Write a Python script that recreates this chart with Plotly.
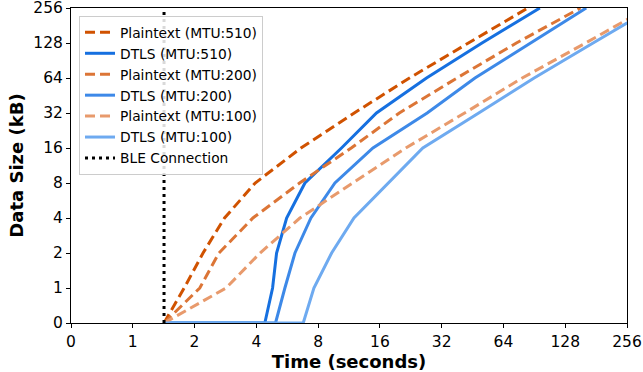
import numpy as np
import plotly.graph_objects as go

# ---------------- data ----------------
tick_values = [0, 1, 2, 4, 8, 16, 32, 64, 128, 256]
tick_labels = ["0", "1", "2", "4", "8", "16", "32", "64", "128", "256"]

plain_sizes = [0, 1, 2, 4, 8, 16, 32, 64, 128, 256]          # kB
dtls_sizes = [0, 0, 1, 2, 4, 8, 16, 32, 64, 128, 256]        # kB

plain510_time = [1.42, 1.78, 2.2, 2.8, 3.95, 6.6, 12.0, 22.3, 43.2, 84.2]
dtls510_time = [1.42, 4.40, 4.80, 5.02, 5.62, 6.90, 10.4, 15.4, 27.0, 50.3, 96.3]
plain200_time = [1.42, 2.12, 2.63, 3.85, 6.5, 11.6, 19.9, 38.0, 74.0, 152.0]
dtls200_time = [1.42, 4.96, 5.51, 6.17, 7.38, 9.66, 14.8, 27.2, 46.5, 86.4, 162.0]
plain100_time = [1.42, 2.85, 4.17, 6.52, 11.8, 21.4, 41.4, 79.0, 161.0, 322.0]
dtls100_time = [1.42, 6.77, 7.63, 9.31, 11.96, 17.5, 25.9, 48.5, 90.3, 175.0, 340.0]

ble_time = 1.42
ble_sizes = [0, 256]


# symmetric log (base 2, linear below 1) scale, as in the reference
def sym2(v):
    v = np.asarray(v, dtype=float)
    return np.where(v <= 1, v, 1 + np.log2(np.maximum(v, 1)))


series = [
    ("Plaintext (MTU:510)", plain510_time, plain_sizes, "#d05200", "10px,5px"),
    ("DTLS (MTU:510)", dtls510_time, dtls_sizes, "#1670e0", "solid"),
    ("Plaintext (MTU:200)", plain200_time, plain_sizes, "#dc7536", "10px,5px"),
    ("DTLS (MTU:200)", dtls200_time, dtls_sizes, "#3d89e8", "solid"),
    ("Plaintext (MTU:100)", plain100_time, plain_sizes, "#e89a6c", "10px,5px"),
    ("DTLS (MTU:100)", dtls100_time, dtls_sizes, "#6eaaf0", "solid"),
]

fig = go.Figure()
for name, t, s, color, dash in series:
    fig.add_trace(go.Scatter(
        x=sym2(t), y=sym2(s), mode="lines", name=name,
        line=dict(color=color, width=3, dash=dash),
    ))

fig.add_trace(go.Scatter(
    x=sym2([ble_time, ble_time]), y=sym2(ble_sizes), mode="lines",
    name="BLE Connection",
    line=dict(color="black", width=3, dash="3px,4px"),
))

font_family = "DejaVu Sans"
axis_common = dict(
    showgrid=False, zeroline=False,
    showline=True, linecolor="black", linewidth=1, mirror=True,
    ticks="outside", ticklen=4, tickcolor="black", tickwidth=1,
    tickfont=dict(family=font_family, size=15.5, color="black"),
    layer="below traces", automargin=False, ticklabeloverflow="allow",
)

fig.update_layout(
    width=643, height=372,
    margin=dict(l=71, r=16, t=8, b=49),
    paper_bgcolor="white", plot_bgcolor="white",
    font=dict(family=font_family, color="black"),
    xaxis=dict(
        range=[0, 9], tickvals=sym2(tick_values).tolist(), ticktext=tick_labels,
        title=dict(text="<b>Time (seconds)</b>", font=dict(size=18), standoff=0),
        **axis_common,
    ),
    yaxis=dict(
        range=[0, 9], tickvals=sym2(tick_values).tolist(), ticktext=tick_labels,
        title=dict(text="<b>Data Size (kB)</b>", font=dict(size=18), standoff=5),
        **axis_common,
    ),
    legend=dict(
        x=0.0144, y=0.975, xanchor="left", yanchor="top",
        bgcolor="rgba(255,255,255,0.85)", bordercolor="#cccccc", borderwidth=1,
        font=dict(family=font_family, size=13.8, color="black"),
        itemwidth=30, tracegroupgap=0,
    ),
    showlegend=True,
)

fig.write_html("out.html", config={"displayModeBar": False},
               post_script="document.body.style.margin='0';")
